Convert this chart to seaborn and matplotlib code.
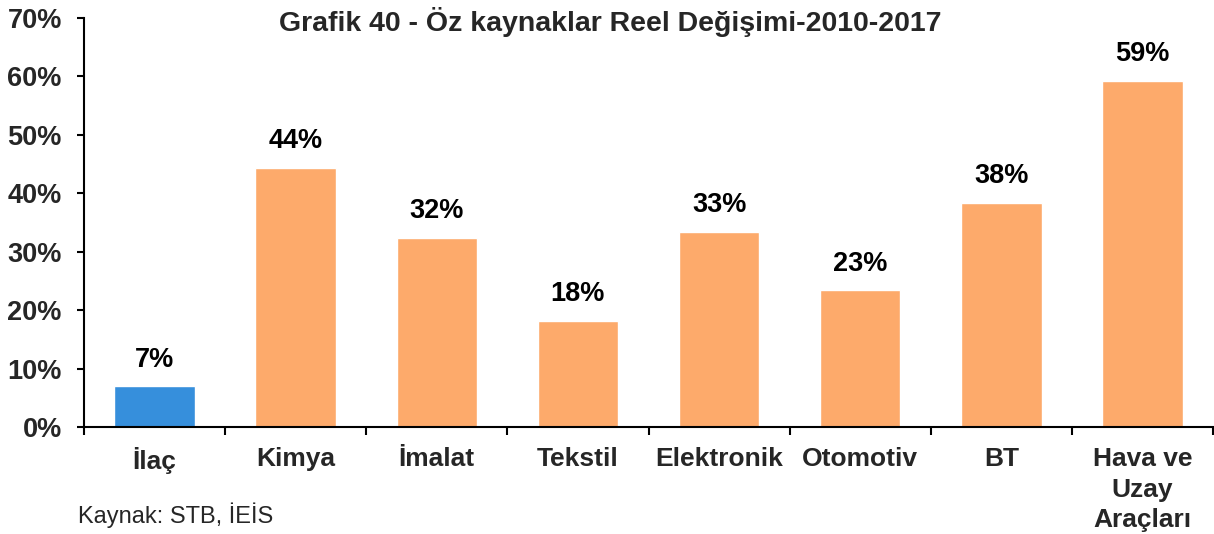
import matplotlib
matplotlib.use("Agg")
import matplotlib.pyplot as plt
import matplotlib.ticker as mticker
import seaborn as sns
import pandas as pd

categories = ["İlaç", "Kimya", "İmalat", "Tekstil", "Elektronik", "Otomotiv", "BT",
              "Hava ve\nUzay\nAraçları"]
values = [7.0, 44.4, 32.4, 18.2, 33.4, 23.4, 38.4, 59.3]
highlight = ["İlaç"]
title = "Grafik 40 - Öz kaynaklar Reel Değişimi-2010-2017"
source = "Kaynak: STB, İEİS"

sns.set_theme(style="white")
plt.rcParams["font.family"] = ["Liberation Sans", "DejaVu Sans"]

df = pd.DataFrame({"cat": categories, "val": values})
df["grp"] = ["vurgu" if c in highlight else "diger" for c in categories]

fig = plt.figure(figsize=(12.14, 5.34), dpi=100)
ax = fig.add_axes([84 / 1214, 107 / 534, 1129 / 1214, 409 / 534])

sns.barplot(data=df, x="cat", y="val", hue="grp",
            palette={"vurgu": "#368FDC", "diger": "#FDAA6B"},
            dodge=False, width=0.57, legend=False, ax=ax, saturation=1)

for i, v in enumerate(values):
    ax.text(i, v + 2.3, f"{v:.0f}%", ha="center", va="bottom",
            fontsize=19.5, fontweight="bold", color="black")

ax.set_ylim(0, 70)
ax.set_xlim(-0.5, len(categories) - 0.5)
ax.yaxis.set_major_locator(mticker.MultipleLocator(10))
ax.yaxis.set_major_formatter(mticker.FuncFormatter(lambda y, _: f"{y:.0f}%"))
ax.set_xlabel("")
ax.set_ylabel("")

for s in ["top", "right"]:
    ax.spines[s].set_visible(False)
for s in ["left", "bottom"]:
    ax.spines[s].set_color("black")
    ax.spines[s].set_linewidth(1.5)

ax.tick_params(axis="y", which="major", direction="out", length=5, width=1.5,
               color="black", left=True, pad=11, labelsize=19.5)
for lab in ax.get_yticklabels():
    lab.set_fontweight("bold")

ax.set_xticks(range(len(categories)))
ax.set_xticklabels(categories, fontsize=19, fontweight="bold",
                   linespacing=1.35, va="top")
ax.tick_params(axis="x", which="major", length=0, pad=14.5)
ax.set_xticks([i - 0.5 for i in range(len(categories) + 1)], minor=True)
ax.tick_params(axis="x", which="minor", direction="out", length=6, width=1.5,
               color="black", bottom=True)

fig.text(610 / 1214, 1 - 22 / 534, title, ha="center", va="center",
         fontsize=20.5, fontweight="bold")
fig.text(78 / 1214, 1 - 515 / 534, source, ha="left", va="center", fontsize=17)

fig.savefig("out.png", dpi=100)
